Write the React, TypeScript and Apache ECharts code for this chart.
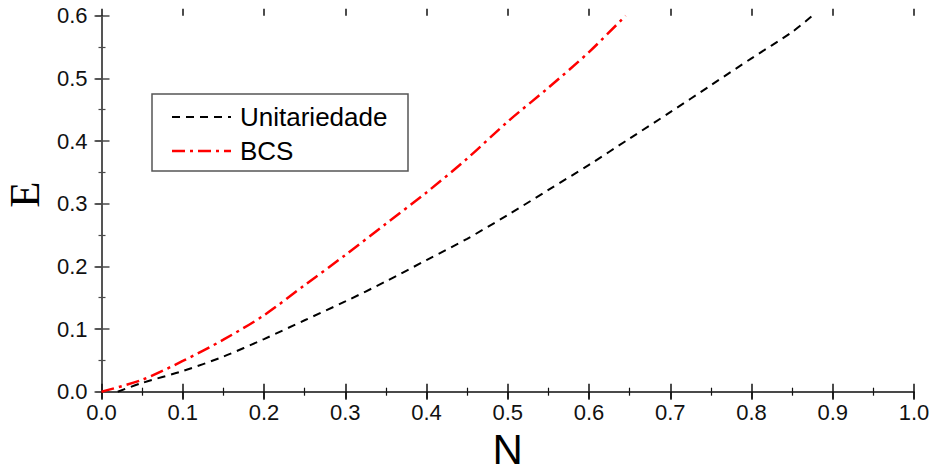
import React, { useEffect, useRef } from "react";
import * as echarts from "echarts";

// Unitariedade (black dashed)
const N_UNIT = [0.02, 0.05, 0.1, 0.15, 0.2, 0.25, 0.3, 0.35, 0.4, 0.45, 0.5, 0.55, 0.6, 0.65, 0.7, 0.75, 0.8, 0.85, 0.875];
const E_UNIT = [0.0, 0.014, 0.033, 0.056, 0.084, 0.114, 0.144, 0.176, 0.21, 0.244, 0.282, 0.322, 0.362, 0.404, 0.446, 0.489, 0.532, 0.574, 0.6];

// BCS (red dash-dot)
const N_BCS = [0.0, 0.05, 0.1, 0.15, 0.2, 0.25, 0.3, 0.35, 0.4, 0.45, 0.5, 0.55, 0.6, 0.645];
const E_BCS = [0.0, 0.019, 0.049, 0.083, 0.122, 0.17, 0.218, 0.268, 0.318, 0.372, 0.431, 0.485, 0.542, 0.6];

const SERIES_NAMES = ["Unitariedade", "BCS"];
const X_TITLE = "N";
const Y_TITLE = "E";

const X_MIN = 0, X_MAX = 1.0, X_STEP = 0.1;
const Y_MIN = 0, Y_MAX = 0.6, Y_STEP = 0.1;

const SANS = "'Liberation Sans', Arial, sans-serif";
const SERIF = "'Liberation Serif', 'Times New Roman', serif";

export default function App() {
  const ref = useRef<HTMLDivElement>(null);
  useEffect(() => {
    if (!ref.current) return;
    const chart = echarts.init(ref.current, null, { renderer: "svg" });
    const fmt = (v: number) => v.toFixed(1);
    const baseX = { type: "value", min: X_MIN, max: X_MAX, interval: X_STEP, gridIndex: 0, splitLine: { show: false } };
    const baseY = { type: "value", min: Y_MIN, max: Y_MAX, interval: Y_STEP, gridIndex: 0, splitLine: { show: false } };
    const dark = "#111";
    const gray = "#4a4a4a";
    const labelStyle = { fontFamily: SANS, fontSize: 22, color: "#111" };
    chart.setOption({
      animation: false,
      backgroundColor: "#fff",
      textStyle: { fontFamily: SANS },
      grid: { left: 101.5, right: 17, top: 15.7, bottom: 81.3, containLabel: false, outerBoundsMode: "none" },
      xAxis: [
        {
          ...baseX,
          position: "bottom",
          name: X_TITLE,
          nameLocation: "middle",
          nameGap: 34,
          nameTextStyle: { fontFamily: SANS, fontSize: 42, lineHeight: 40, color: "#000" },
          axisLine: { show: true, lineStyle: { color: dark, width: 1.5 } },
          axisTick: { show: true, inside: true, length: 8, lineStyle: { color: dark, width: 1.5 } },
          minorTick: { show: true, splitNumber: 2, length: 4, lineStyle: { color: dark, width: 1.2 } },
          axisLabel: { show: true, formatter: fmt, margin: 10, ...labelStyle },
        },
        {
          ...baseX,
          position: "bottom",
          axisLine: { show: false },
          axisTick: { show: true, inside: false, length: 7, lineStyle: { color: dark, width: 1.5 } },
          axisLabel: { show: false },
        },
        {
          ...baseX,
          position: "top",
          axisLine: { show: true, lineStyle: { color: gray, width: 1.5 } },
          axisTick: { show: true, inside: true, length: 8, lineStyle: { color: dark, width: 1.5 } },
          minorTick: { show: true, splitNumber: 2, length: 4, lineStyle: { color: dark, width: 1.2 } },
          axisLabel: { show: false },
        },
        {
          ...baseX,
          position: "top",
          axisLine: { show: false },
          axisTick: { show: true, inside: false, length: 7, lineStyle: { color: dark, width: 1.5 } },
          axisLabel: { show: false },
        },
      ],
      yAxis: [
        {
          ...baseY,
          position: "left",
          name: Y_TITLE,
          nameLocation: "middle",
          nameRotate: 90,
          nameGap: 57,
          nameTextStyle: { fontFamily: SERIF, fontSize: 43, lineHeight: 38, color: "#000", padding: [0, 0, 0, 18] },
          axisLine: { show: true, lineStyle: { color: gray, width: 1.5 } },
          axisTick: { show: true, inside: true, length: 8, lineStyle: { color: gray, width: 1.5 } },
          minorTick: { show: true, splitNumber: 2, length: 4, lineStyle: { color: gray, width: 1.2 } },
          axisLabel: { show: true, formatter: fmt, margin: 14, ...labelStyle },
        },
        {
          ...baseY,
          position: "left",
          axisLine: { show: false },
          axisTick: { show: true, inside: false, length: 7, lineStyle: { color: gray, width: 1.5 } },
          axisLabel: { show: false },
        },
        {
          ...baseY,
          position: "right",
          axisLine: { show: true, lineStyle: { color: gray, width: 1.5 } },
          axisTick: { show: true, inside: true, length: 6, lineStyle: { color: gray, width: 1.5 } },
          minorTick: { show: true, splitNumber: 2, length: 3, lineStyle: { color: gray, width: 1.2 } },
          axisLabel: { show: false },
        },
      ],
      series: [
        {
          name: SERIES_NAMES[0],
          type: "line",
          xAxisIndex: 0,
          yAxisIndex: 0,
          symbol: "none",
          smooth: 0.3,
          data: N_UNIT.map((n, i) => [n, E_UNIT[i]]),
          lineStyle: { color: "#000", width: 2, type: [8, 6] },
          z: 3,
        },
        {
          name: SERIES_NAMES[1],
          type: "line",
          xAxisIndex: 0,
          yAxisIndex: 0,
          symbol: "none",
          smooth: 0.3,
          data: N_BCS.map((n, i) => [n, E_BCS[i]]),
          lineStyle: { color: "#ff0000", width: 2.5, type: [13, 5, 3, 5] },
          z: 3,
        },
      ],
      graphic: [
        {
          type: "rect",
          shape: { x: 152, y: 94, width: 256, height: 77 },
          style: { fill: "#fff", stroke: "#555", lineWidth: 1.5 },
          z: 10,
        },
        {
          type: "line",
          shape: { x1: 172, y1: 117, x2: 231, y2: 117 },
          style: { stroke: "#000", lineWidth: 2, lineDash: [8, 6] },
          z: 11,
        },
        {
          type: "text",
          x: 240,
          y: 117,
          style: { text: SERIES_NAMES[0], fontFamily: SANS, fontSize: 26, fill: "#000", verticalAlign: "middle", align: "left" },
          z: 11,
        },
        {
          type: "line",
          shape: { x1: 172, y1: 151, x2: 231, y2: 151 },
          style: { stroke: "#ff0000", lineWidth: 2.5, lineDash: [13, 5, 3, 5] },
          z: 11,
        },
        {
          type: "text",
          x: 240,
          y: 151,
          style: { text: SERIES_NAMES[1], fontFamily: SANS, fontSize: 26, fill: "#000", verticalAlign: "middle", align: "left" },
          z: 11,
        },
      ],
    });
    return () => chart.dispose();
  }, []);
  return <div ref={ref} style={{ position: "fixed", left: 0, top: 0, width: 931, height: 473, background: "#fff" }} />;
}
